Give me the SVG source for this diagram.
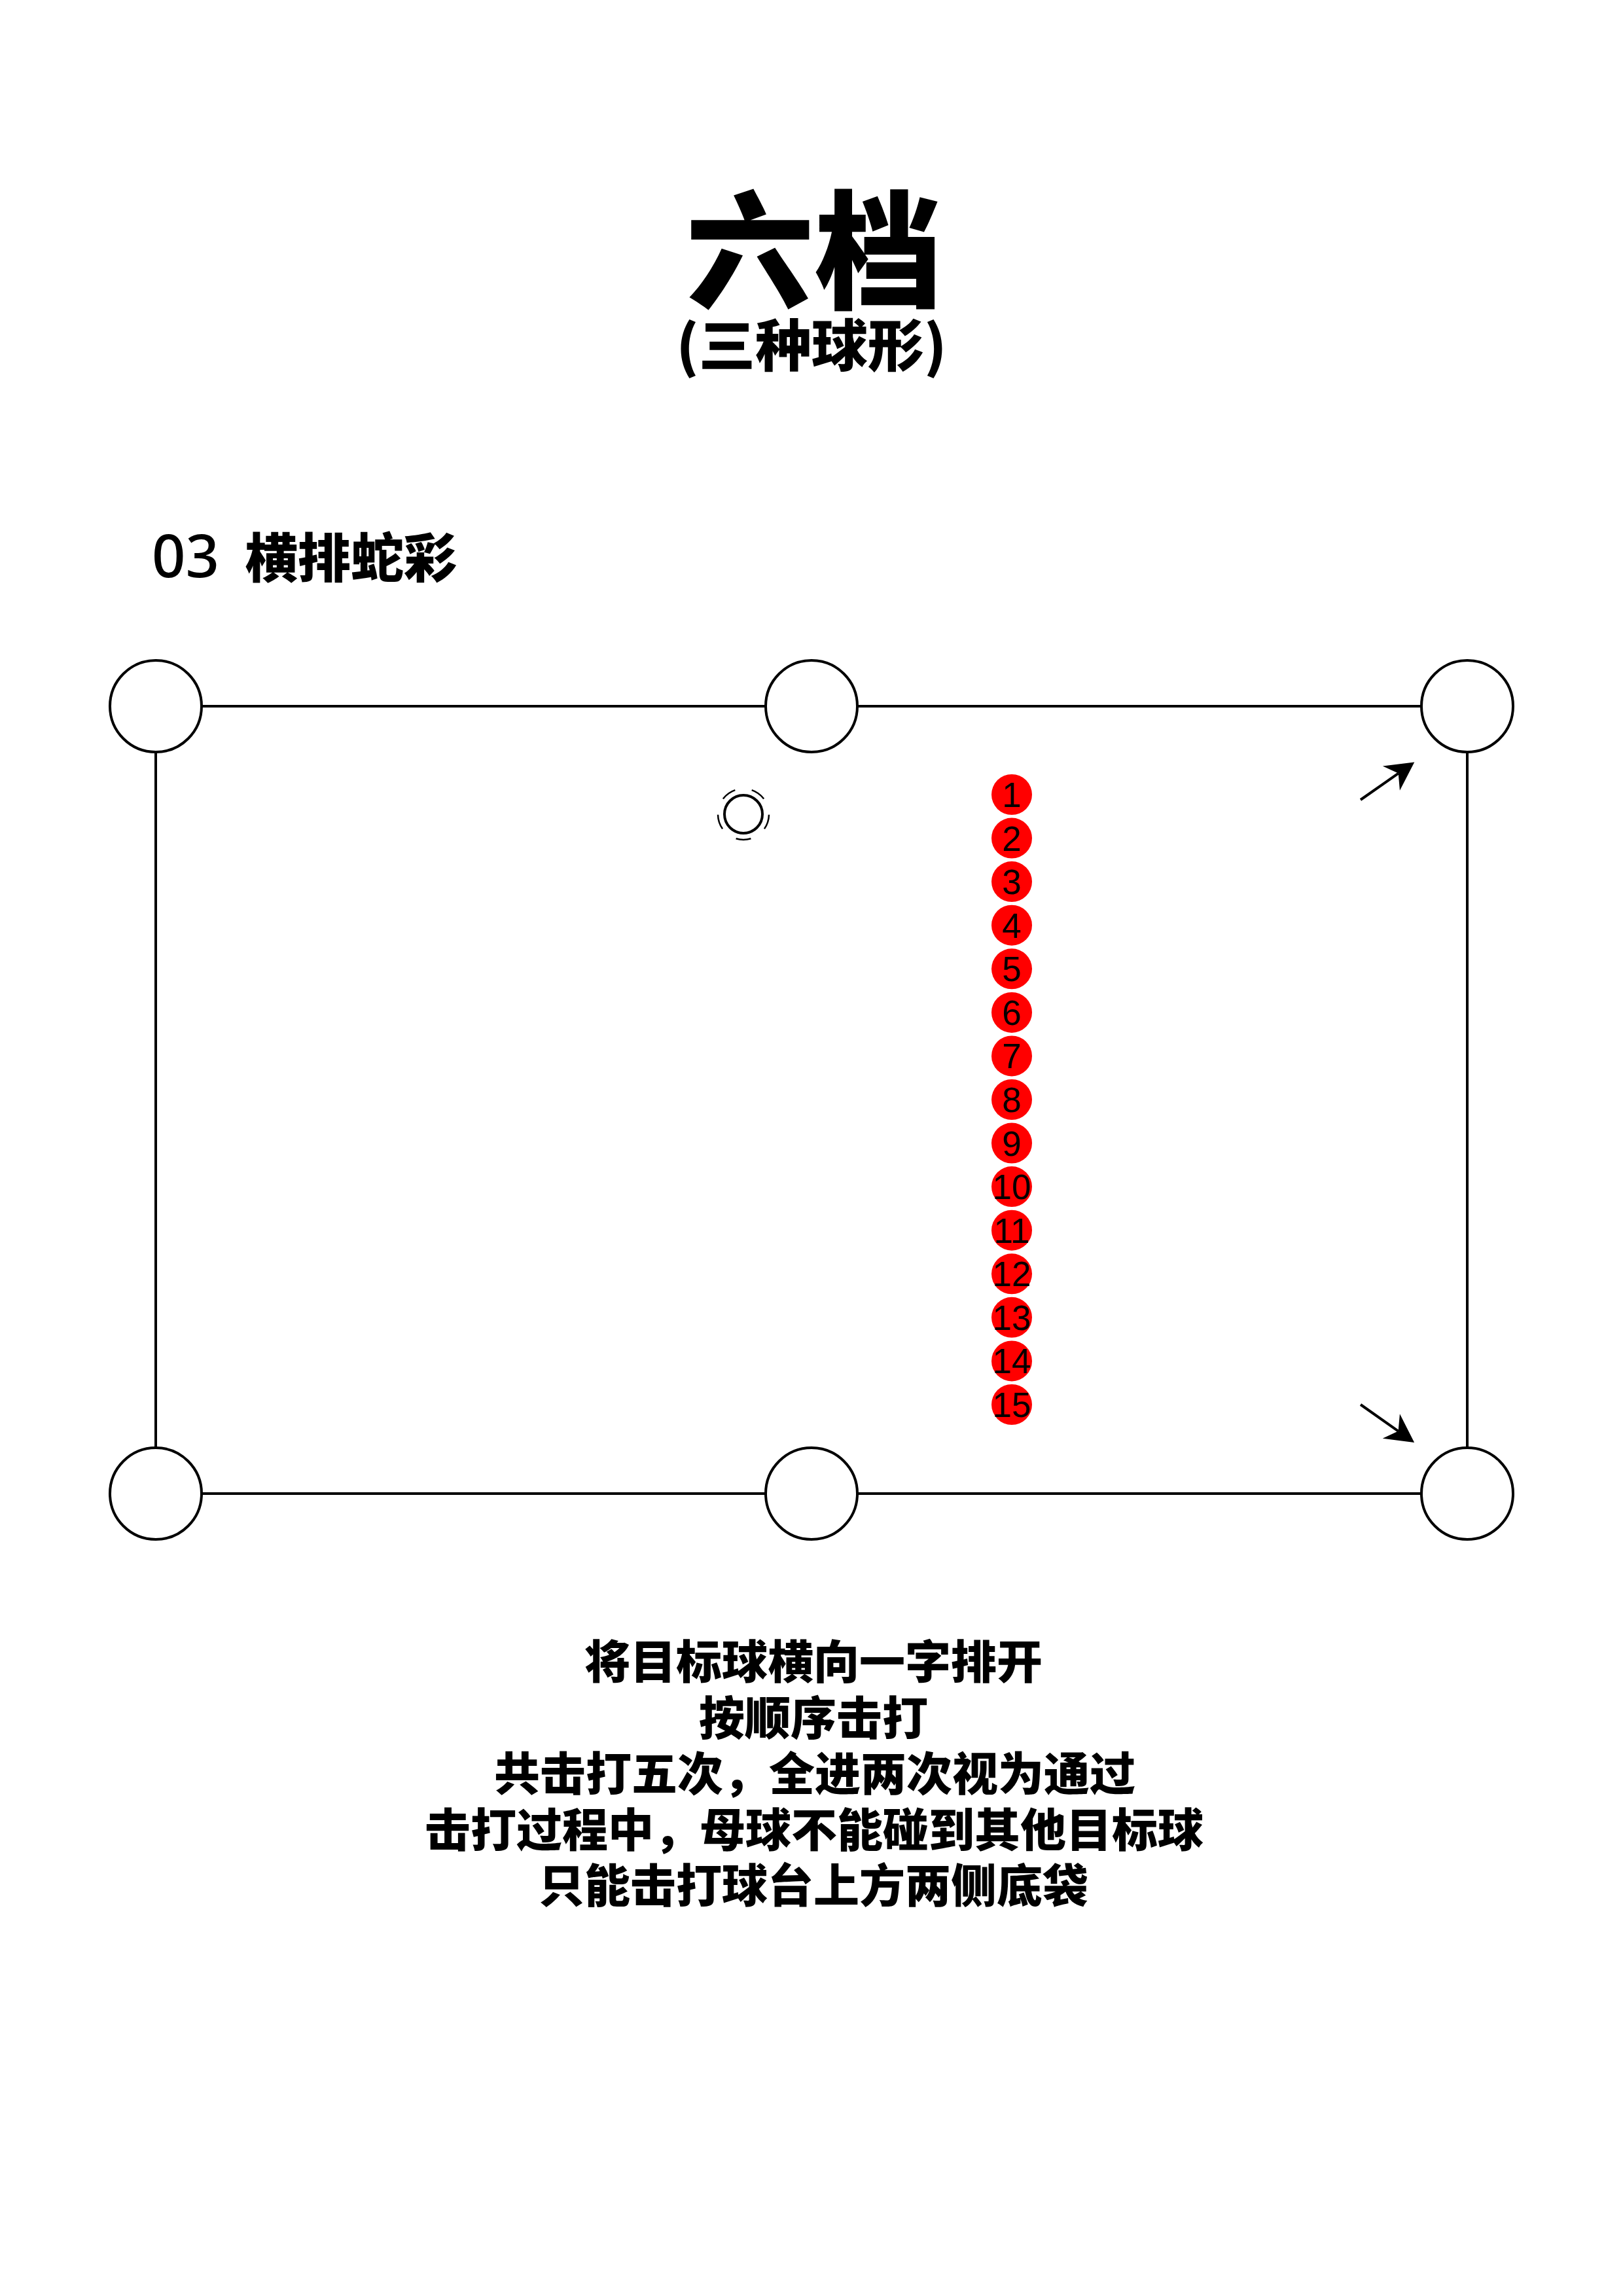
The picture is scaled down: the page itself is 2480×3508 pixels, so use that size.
<svg xmlns="http://www.w3.org/2000/svg" width="2480" height="3508" viewBox="0 0 2480 3508">
<style>
.cjk{font-family:"Noto Sans CJK SC","Noto Sans",sans-serif;font-weight:900;fill:#000}
.rail{fill:none;stroke:#000;stroke-width:4}
.pocket{fill:#fff;stroke:#000;stroke-width:4}
.ball{fill:#ff0000}
.num{font-family:"Liberation Sans",Arial,sans-serif;font-size:53px;fill:#000;text-anchor:middle}
.arc{fill:none;stroke:#000;stroke-width:2.5}
.arrow{stroke:#000;stroke-width:4;fill:none}
</style>
<defs>
<marker id="ah" markerUnits="userSpaceOnUse" markerWidth="60" markerHeight="60" viewBox="-15 -25 45 50" refX="0" refY="0" orient="auto">
<path d="M25,0 L-11,-19 L0,0 L-11,19 Z" fill="#000"/>
</marker>
</defs>
<rect width="2480" height="3508" fill="#fff"/>
<g id="title">
<text class="cjk" text-anchor="middle" x="1244" y="456" font-size="196">六档</text>
<text class="cjk" text-anchor="middle" x="1240" y="560" font-size="86">(三种球形)</text>
</g>
<g id="section-title">
<text class="cjk" x="232" y="882" font-size="81"><tspan font-family="Noto Sans, Liberation Sans, sans-serif" font-weight="500" font-size="90">03</tspan><tspan x="374">横排蛇彩</tspan></text>
</g>
<g id="table">
<rect class="rail" x="238" y="1079" width="2004" height="1203"/>
</g>
<g id="pockets">
<circle id="pocket-tl" class="pocket" cx="238" cy="1079" r="70"/>
<circle id="pocket-tm" class="pocket" cx="1240" cy="1079" r="70"/>
<circle id="pocket-tr" class="pocket" cx="2242" cy="1079" r="70"/>
<circle id="pocket-bl" class="pocket" cx="238" cy="2282" r="70"/>
<circle id="pocket-bm" class="pocket" cx="1240" cy="2282" r="70"/>
<circle id="pocket-br" class="pocket" cx="2242" cy="2282" r="70"/>
</g>
<g id="cue-ball">
<circle cx="1136" cy="1244" r="29" fill="#fff" stroke="#000" stroke-width="4"/>
<path class="arc" d="M1174.99,1244.68 A39,39 0 0 1 1167.95,1266.37"/>
<path class="arc" d="M1147.40,1281.30 A39,39 0 0 1 1124.60,1281.30"/>
<path class="arc" d="M1104.05,1266.37 A39,39 0 0 1 1097.01,1244.68"/>
<path class="arc" d="M1104.85,1220.53 A39,39 0 0 1 1123.30,1207.12"/>
<path class="arc" d="M1148.70,1207.12 A39,39 0 0 1 1167.15,1220.53"/>
</g>
<g id="balls">
<g id="ball-1"><circle class="ball" cx="1546" cy="1214" r="31"/><text class="num" x="1546" y="1233">1</text></g>
<g id="ball-2"><circle class="ball" cx="1546" cy="1280.6" r="31"/><text class="num" x="1546" y="1299.6">2</text></g>
<g id="ball-3"><circle class="ball" cx="1546" cy="1347.1" r="31"/><text class="num" x="1546" y="1366.1">3</text></g>
<g id="ball-4"><circle class="ball" cx="1546" cy="1413.7" r="31"/><text class="num" x="1546" y="1432.7">4</text></g>
<g id="ball-5"><circle class="ball" cx="1546" cy="1480.3" r="31"/><text class="num" x="1546" y="1499.3">5</text></g>
<g id="ball-6"><circle class="ball" cx="1546" cy="1546.9" r="31"/><text class="num" x="1546" y="1565.9">6</text></g>
<g id="ball-7"><circle class="ball" cx="1546" cy="1613.4" r="31"/><text class="num" x="1546" y="1632.4">7</text></g>
<g id="ball-8"><circle class="ball" cx="1546" cy="1680" r="31"/><text class="num" x="1546" y="1699">8</text></g>
<g id="ball-9"><circle class="ball" cx="1546" cy="1746.6" r="31"/><text class="num" x="1546" y="1765.6">9</text></g>
<g id="ball-10"><circle class="ball" cx="1546" cy="1813.1" r="31"/><text class="num" x="1546" y="1832.1">10</text></g>
<g id="ball-11"><circle class="ball" cx="1546" cy="1879.7" r="31"/><text class="num" x="1546" y="1898.7">11</text></g>
<g id="ball-12"><circle class="ball" cx="1546" cy="1946.3" r="31"/><text class="num" x="1546" y="1965.3">12</text></g>
<g id="ball-13"><circle class="ball" cx="1546" cy="2012.8" r="31"/><text class="num" x="1546" y="2031.8">13</text></g>
<g id="ball-14"><circle class="ball" cx="1546" cy="2079.4" r="31"/><text class="num" x="1546" y="2098.4">14</text></g>
<g id="ball-15"><circle class="ball" cx="1546" cy="2146" r="31"/><text class="num" x="1546" y="2165">15</text></g>
</g>
<g id="connectors">
<line class="arrow" x1="2079" y1="1222" x2="2136.7" y2="1181.6" marker-end="url(#ah)"/>
<line class="arrow" x1="2079" y1="2146" x2="2136.6" y2="2186.6" marker-end="url(#ah)"/>
</g>
<g id="description">
<text class="cjk" font-size="70" text-anchor="middle" x="1243" y="2565">将目标球横向一字排开</text>
<text class="cjk" font-size="70" text-anchor="middle" x="1243" y="2650.5">按顺序击打</text>
<text class="cjk" font-size="70" text-anchor="middle" x="1245" y="2736">共击打五次，全进两次视为通过</text>
<text class="cjk" font-size="70" text-anchor="middle" x="1244" y="2821.5">击打过程中，母球不能碰到其他目标球</text>
<text class="cjk" font-size="70" text-anchor="middle" x="1243" y="2907">只能击打球台上方两侧底袋</text>
</g>
</svg>
